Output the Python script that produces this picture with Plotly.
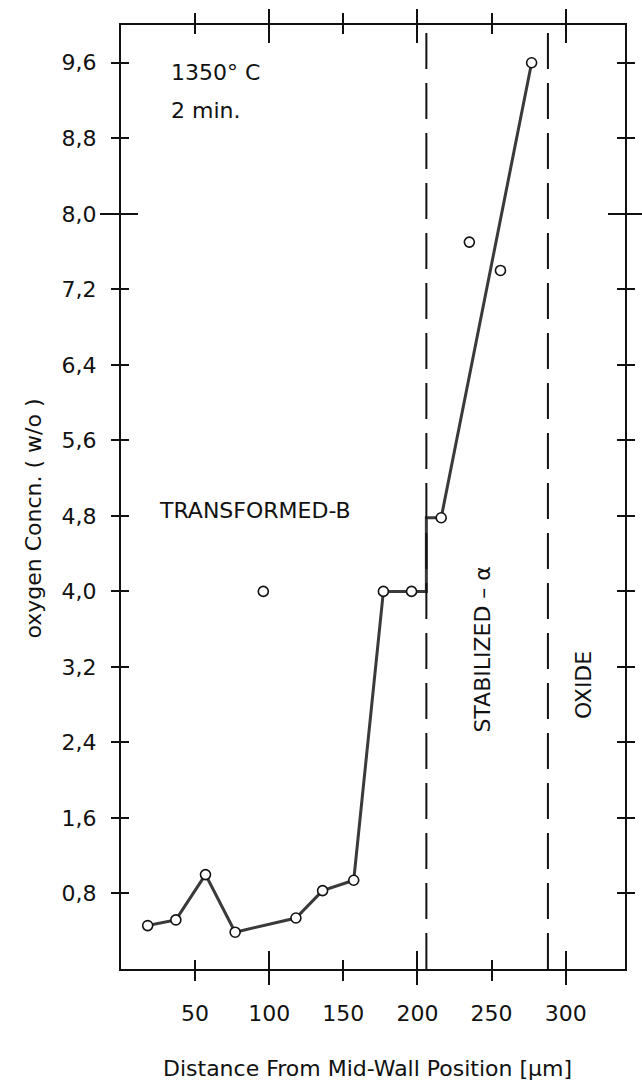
import plotly.graph_objects as go

# Oxygen concentration profile across the wall, 1350 °C, 2 min
dist_um = [18, 37, 57, 77, 118, 136, 157, 177, 196]
oxygen_wo = [0.46, 0.52, 1.00, 0.39, 0.54, 0.83, 0.94, 4.0, 4.0]

# step at the transformed-beta / stabilized-alpha boundary, then the alpha layer
alpha_dist_um = [216, 277]
alpha_oxygen_wo = [4.78, 9.6]

# measured points not on the fitted profile
scatter_dist_um = [96, 235, 256]
scatter_oxygen_wo = [4.0, 7.7, 7.4]

# phase boundaries
boundaries_um = [206, 288]

x_ticks = [50, 100, 150, 200, 250, 300]
x_major_ticks = [100, 200, 300]
y_ticks = [0.8, 1.6, 2.4, 3.2, 4.0, 4.8, 5.6, 6.4, 7.2, 8.0, 8.8, 9.6]
y_major_ticks = [8.0]
y_tick_text = [f"{v:.1f}".replace(".", ",") for v in y_ticks]

FONT = "DejaVu Sans, Liberation Sans, sans-serif"
INK = "#111111"
X_RANGE = [0, 340]
Y_RANGE = [0, 10]

# profile path: beta data, vertical step along the boundary, alpha data
line_x = dist_um + [boundaries_um[0], boundaries_um[0]] + alpha_dist_um
line_y = oxygen_wo + [oxygen_wo[-1], alpha_oxygen_wo[0]] + alpha_oxygen_wo

fig = go.Figure()

fig.add_trace(go.Scatter(
    x=line_x, y=line_y, mode="lines",
    line=dict(color="#3a3a3a", width=3),
    hoverinfo="skip", showlegend=False,
))
fig.add_trace(go.Scatter(
    x=dist_um + alpha_dist_um, y=oxygen_wo + alpha_oxygen_wo, mode="markers",
    marker=dict(symbol="circle", size=10, color="white",
                line=dict(color=INK, width=1.6)),
    showlegend=False,
))
fig.add_trace(go.Scatter(
    x=scatter_dist_um, y=scatter_oxygen_wo, mode="markers",
    marker=dict(symbol="circle", size=10, color="white",
                line=dict(color=INK, width=1.6)),
    showlegend=False,
))

for b in boundaries_um:
    fig.add_shape(type="line", xref="x", yref="paper", x0=b, x1=b, y0=0, y1=0.997,
                  line=dict(color=INK, width=2, dash="36px,14px"))

axis_common = dict(
    showgrid=False, zeroline=False,
    showline=True, linecolor=INK, linewidth=2,
    ticks="outside", tickcolor=INK, tickwidth=2, mirror="ticks",
    tickfont=dict(family=FONT, size=22, color=INK),
)


def tick_overlay(base, rng, vals, side_ticks, length):
    """Extra tick-only axis laid over a base axis (used for crossing / long ticks)."""
    return dict(overlaying=base, matches=base, range=rng, tickvals=vals,
                ticks=side_ticks, ticklen=length, tickwidth=2, tickcolor=INK,
                mirror="ticks", showticklabels=False, showline=False,
                showgrid=False, zeroline=False)


fig.update_layout(
    width=642, height=1090,
    margin=dict(l=121, r=7, t=25, b=121),
    paper_bgcolor="white", plot_bgcolor="white",
    xaxis=dict(range=X_RANGE, tickvals=x_ticks, ticklen=10,
               ticklabelstandoff=14, **axis_common),
    yaxis=dict(range=Y_RANGE, tickvals=y_ticks, ticktext=y_tick_text, ticklen=8,
               ticklabelstandoff=10, **axis_common),
    xaxis2=tick_overlay("x", X_RANGE, x_ticks, "inside", 9),
    yaxis2=tick_overlay("y", Y_RANGE, y_ticks, "inside", 8),
    xaxis3=tick_overlay("x", X_RANGE, x_major_ticks, "outside", 15),
    yaxis3=tick_overlay("y", Y_RANGE, y_major_ticks, "outside", 20),
    xaxis4=tick_overlay("x", X_RANGE, x_major_ticks, "inside", 18),
    yaxis4=tick_overlay("y", Y_RANGE, y_major_ticks, "inside", 17),
    font=dict(family=FONT, size=22, color=INK),
)

# empty traces so the overlay tick axes are drawn
for k in (2, 3, 4):
    fig.add_trace(go.Scatter(x=[None], y=[None], xaxis=f"x{k}", yaxis=f"y{k}",
                             showlegend=False, hoverinfo="skip"))

annots = [
    dict(text="1350° C", x=32.5, y=9.5, xanchor="left"),
    dict(text="2 min.", x=32.5, y=9.09, xanchor="left"),
    dict(text="TRANSFORMED-B", x=24.5, y=4.86, xanchor="left"),
    dict(text="STABILIZED – α", x=244, y=3.38, textangle=-90),
    dict(text="OXIDE", x=312.5, y=3.01, textangle=-90),
]
for a in annots:
    fig.add_annotation(xref="x", yref="y", showarrow=False,
                       font=dict(family=FONT, size=22, color=INK),
                       yanchor="middle", **a)

fig.add_annotation(text="oxygen Concn. ( w/o )", xref="paper", yref="y",
                   x=-0.173, y=4.77, textangle=-90, showarrow=False,
                   xanchor="center", yanchor="middle",
                   font=dict(family=FONT, size=22, color=INK))
fig.add_annotation(text="Distance From Mid-Wall Position [µm]", xref="paper", yref="paper",
                   x=0.49, y=-0.105, showarrow=False, xanchor="center", yanchor="middle",
                   font=dict(family=FONT, size=22, color=INK))

fig.write_html("out.html")
